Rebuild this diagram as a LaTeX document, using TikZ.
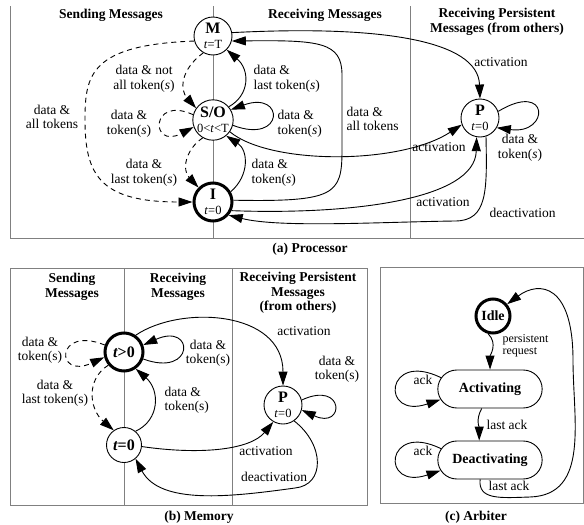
\documentclass[tikz,border=0pt]{standalone}
\usepackage{fontspec}
\setmainfont{Liberation Serif}
\usetikzlibrary{arrows.meta, shapes.misc}
\tikzset{>={Triangle[length=14pt,width=9pt]}}
\newcommand{\lblsize}{\fontsize{13.5}{14.5}\selectfont}
\newcommand{\stname}[1]{{\fontsize{16}{15}\selectfont\bfseries #1}}
\newcommand{\stval}[1]{{\fontsize{12.5}{12}\selectfont #1}}
\newcommand{\tks}{token(\textit{s})}

\begin{document}
\begin{tikzpicture}[x=1pt, y=-1pt, align=center, font=\lblsize,
    state/.style={circle, draw, fill=white, line width=0.9pt, minimum size=38pt, inner sep=0pt},
    owner/.style={state, line width=3pt},
    pill/.style={rounded rectangle, draw, fill=white, line width=0.9pt, minimum width=111pt,
      minimum height=38pt, font=\fontsize{14}{14}\selectfont\bfseries},
    recv/.style={->, line width=0.9pt},
    send/.style={->, line width=0.9pt, dash pattern=on 5pt off 4pt},
    frame/.style={draw=gray, line width=0.8pt},
    lane/.style={draw=gray, line width=0.6pt},
    head/.style={font=\fontsize{13.5}{14.5}\selectfont\bfseries}]
  \useasboundingbox (0,0) rectangle (584,525);

  % (a) processor
  \draw[frame] (10,6) -- (10,238) -- (584,238);
  \draw[lane] (213,6) -- (213,238);
  \draw[lane] (410,6) -- (410,238);
  \node[head] (hdSend) at (111,15) {Sending Messages};
  \node[head] (hdRecv) at (325,15) {Receiving Messages};
  \node[head] (hdPers) at (497,22) {Receiving Persistent\\Messages (from others)};
  \node[head] (capProc) at (310,249) {(a) Processor};

  \node[state] (procM) at (213,36) {\stname{M}\\\stval{\textit{t}=T}};
  \node[state] (procSO) at (213,120) {\stname{S/O}\\\stval{0<\textit{t}<T}};
  \node[owner] (procI) at (213,202) {\stname{I}\\\stval{\textit{t}=0}};
  \node[state] (procP) at (480,118) {\stname{P}\\\stval{\textit{t}=0}};

  \draw[recv] (procM.10) .. controls (380,25) and (478,40) .. (procP.north);
  \draw[recv] (procI.5) .. controls (335,202) and (342,195) .. (342,150) -- (342,75)
    .. controls (342,42) and (320,40) .. (procM.-15);
  \draw[recv] (procSO.40) .. controls (250,95) and (250,70) .. (procM.-45);
  \draw[recv] (procSO.-15) .. controls (285,145) and (285,90) .. (procSO.30);
  \draw[recv] (procSO.-35) .. controls (270,165) and (400,165) .. (procP.200);
  \draw[recv] (procI.30) .. controls (250,175) and (248,150) .. (procSO.-50);
  \draw[recv] (procI.-25) .. controls (350,215) and (475,200) .. (procP.-100);
  \draw[recv] (procP.-72) .. controls (487,190) and (488,221) .. (455,221)
    .. controls (380,222) and (280,228) .. (procI.-40);
  \draw[recv] (procP.20) .. controls (550,80) and (550,135) .. (procP.-30);
  \draw[send] (procM.-120) .. controls (180,70) and (180,90) .. (procSO.145);
  \draw[send] (procSO.165) .. controls (150,95) and (150,150) .. (procSO.-160);
  \draw[send] (procSO.-120) .. controls (185,150) and (182,170) .. (procI.135);
  \draw[send] (procM.195) .. controls (90,45) and (85,75) .. (85,120)
    .. controls (85,175) and (100,202) .. (procI.180);

  \node (lbMP) at (501,62) {activation};
  \node[anchor=west, align=left] (lbIM) at (343,119) {data \&\\all tokens};
  \node[anchor=west, align=left] (lbSOM) at (250,79) {data \&\\last \tks};
  \node[anchor=west, align=left] (lbSOloop) at (274,124) {data \&\\\tks};
  \node (lbSOP) at (439,147) {activation};
  \node[anchor=west, align=left] (lbISO) at (248,173) {data \&\\\tks};
  \node (lbIP) at (443,202) {activation};
  \node[anchor=west] (lbPI) at (486,213) {deactivation};
  \node (lbPloop) at (520,148) {data \&\\\tks};
  \node (lbMSO) at (144,79) {data \& not\\all \tks};
  \node (lbSOsloop) at (129,124) {data \&\\\tks};
  \node (lbSOI) at (144,173) {data \&\\last \tks};
  \node (lbMI) at (52,117) {data \&\\all tokens};

  % (b) memory
  \draw[frame] (10,268) rectangle (367,505);
  \draw[lane] (124,268) -- (124,505);
  \draw[lane] (232,268) -- (232,505);
  \node[head] (hdMemSend) at (72,287) {Sending\\Messages};
  \node[head] (hdMemRecv) at (178,287) {Receiving\\Messages};
  \node[head] (hdMemPers) at (298,293) {Receiving Persistent\\Messages\\(from others)};
  \node[head] (capMem) at (199,517) {(b) Memory};

  \node[owner] (memOwner) at (124,352) {\stname{\itshape t\upshape>0}};
  \node[state, minimum size=35pt] (memZero) at (124,445) {\stname{\itshape t\upshape=0}};
  \node[state] (memP) at (283,405) {\stname{P}\\\stval{\textit{t}=0}};

  \draw[recv] (memOwner.55) .. controls (180,305) and (283,310) .. (memP.north);
  \draw[recv] (memOwner.-20) .. controls (195,378) and (195,322) .. (memOwner.20);
  \draw[send] (memOwner.160) .. controls (55,325) and (55,380) .. (memOwner.-165);
  \draw[send] (memOwner.-140) .. controls (85,380) and (90,410) .. (memZero.125);
  \draw[recv] (memZero.50) .. controls (160,420) and (160,390) .. (memOwner.-55);
  \draw[recv] (memZero.-5) .. controls (200,455) and (250,450) .. (memP.240);
  \draw[recv] (memP.-55) .. controls (325,445) and (325,485) .. (295,488)
    .. controls (230,497) and (160,505) .. (memZero.-50);
  \draw[recv] (memP.15) .. controls (345,380) and (345,430) .. (memP.-15);

  \node (lbOP) at (304,331) {activation};
  \node (lbOloop) at (208,353) {data \&\\token(s)};
  \node (lbOsloop) at (40,350) {data \&\\token(s)};
  \node (lbOZ) at (55,393) {data \&\\last token(s)};
  \node[anchor=west, align=left] (lbZO) at (161,400) {data \&\\token(s)};
  \node (lbZP) at (266,451) {activation};
  \node (lbPZ) at (274,477) {deactivation};
  \node (lbMPloop) at (337,369) {data \&\\token(s)};

  % (c) arbiter
  \draw[frame] (380,267) rectangle (583,503);
  \node[head] (capArb) at (476,517) {(c) Arbiter};

  \node[owner, minimum size=34pt, font=\fontsize{14}{14}\selectfont\bfseries] (arbIdle) at (493,316) {Idle};
  \node[pill] (arbAct) at (490,389) {Activating};
  \node[pill] (arbDeact) at (490,460) {Deactivating};

  \draw[recv] (arbIdle.-105) to[out=-45, in=90] (arbAct.north);
  \draw[recv] (arbAct.-113) to[out=-120, in=90] (arbDeact.119);
  \draw[recv] (arbAct.167) .. controls (385,350) and (380,420) .. (arbAct.-168);
  \draw[recv] (arbDeact.167) .. controls (385,421) and (380,491) .. (arbDeact.-168);
  \draw[recv] (arbDeact.-117) .. controls (478,500) and (500,498) .. (530,497)
    .. controls (590,495) and (573,420) .. (573,360)
    .. controls (573,285) and (540,280) .. (arbIdle.40);

  \node[anchor=west, align=left, font=\fontsize{12}{11.5}\selectfont] (lbIA) at (499,346) {persistent\\request};
  \node (lbAD) at (507,425) {last ack};
  \node (lbAloop) at (423,380) {ack};
  \node (lbDloop) at (423,451) {ack};
  \node (lbDI) at (509,486) {last ack};
\end{tikzpicture}
\end{document}
